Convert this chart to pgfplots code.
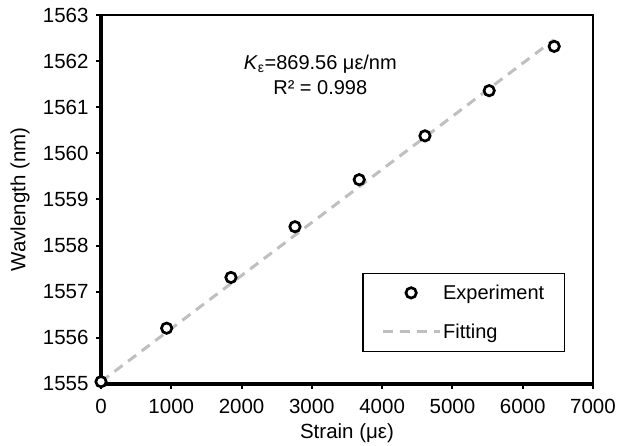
\documentclass[border=0pt]{standalone}
\usepackage{fontspec}
\setmainfont{Liberation Sans}
\usepackage{pgfplots}
\pgfplotsset{compat=1.18}
\definecolor{fitgray}{RGB}{191,191,191}
\begin{document}
\begin{tikzpicture}
\begin{axis}[
  scale only axis, width=492pt, height=369pt,
  xmin=0, xmax=7000, ymin=1555, ymax=1563,
  xtick={0,1000,...,7000}, ytick={1555,1556,...,1563},
  tick align=outside, tick pos=left, major tick length=5pt,
  every tick/.style={black, line width=2pt},
  axis line style={line width=2.2pt},
  clip=false,
  /pgf/number format/assume math mode=true,
  /pgf/number format/1000 sep={},
  ticklabel style={font=\fontsize{20.5}{22}\selectfont},
  xticklabel style={yshift=-7pt},
  yticklabel style={xshift=-4pt},
  xlabel={Strain (με)}, ylabel={Wavlength (nm)},
  label style={font=\fontsize{20.5}{24}\selectfont},
  xlabel style={at={(axis description cs:0.5,-0.133)}, anchor=center},
  ylabel style={at={(axis description cs:-0.1646,0.5)}, anchor=center},
  legend style={at={(axis description cs:0.943,0.0867)}, anchor=south east,
    draw=black, line width=1.3pt, font=\fontsize{20}{24}\selectfont,
    inner xsep=18pt, inner ysep=9.5pt, row sep=19pt,
    nodes={inner sep=2pt}},
  legend cell align=left, reverse legend,
  legend image code/.code={\draw[mark repeat=2,mark phase=2,#1] plot coordinates {(0pt,0pt) (28.5pt,0pt) (57pt,0pt)};},
]
\draw[line width=3.5pt] (rel axis cs:0,1) -- (rel axis cs:0,0) -- (rel axis cs:1,0);
\addplot[fitgray, line width=3pt, dash pattern=on 10pt off 7pt] coordinates {(0,1555.05) (6440,1562.46)};
\addlegendentry{Fitting}
\addplot[only marks, mark=*, mark size=5.2pt, mark options={fill=white, draw=black, line width=2.7pt, solid}] coordinates {
(0,1555.05) (934,1556.21) (1849,1557.31) (2760,1558.41) (3674,1559.43) (4609,1560.38) (5523,1561.36) (6448,1562.32)};
\addlegendentry{Experiment}
\node[align=center, font=\fontsize{20}{25}\selectfont] at (axis cs:3120,1561.71) {\textit{K}\textsubscript{ε}=869.56 με/nm\\R² = 0.998};
\coordinate (bl) at (rel axis cs:0,0);
\coordinate (tr) at (rel axis cs:1,1);
\end{axis}
\pgfresetboundingbox
\path (bl) +(-101pt,-62pt) (tr) +(30pt,15pt);
\end{tikzpicture}
\end{document}
